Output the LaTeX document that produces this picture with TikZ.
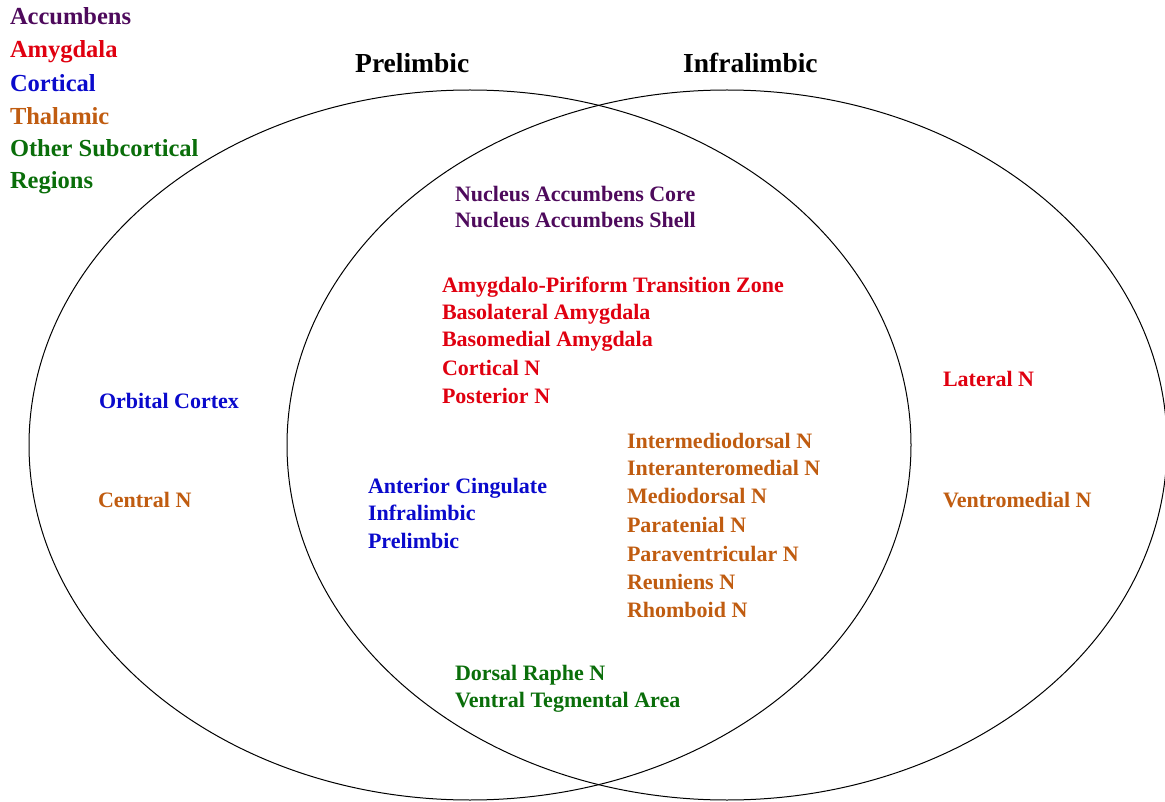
\documentclass[tikz,border=0pt]{standalone}
\usepackage{fontspec}
\setmainfont{Liberation Serif}
\definecolor{accc}{HTML}{4E0A5C}
\definecolor{amyc}{HTML}{E00010}
\definecolor{corc}{HTML}{0A0ACC}
\definecolor{thac}{HTML}{C05C10}
\definecolor{othc}{HTML}{0A6E0A}
\tikzset{
  lbl/.style={anchor=base west, inner sep=0pt, outer sep=0pt,
    font=\bfseries\fontsize{22}{27.5}\selectfont},
  leg/.style={anchor=base west, inner sep=0pt, outer sep=0pt,
    font=\bfseries\fontsize{24.5}{30}\selectfont},
  head/.style={anchor=base west, inner sep=0pt, font=\bfseries\fontsize{27.5}{32}\selectfont},
  venn/.style={draw=black, line width=1pt}
}
\begin{document}
\begin{tikzpicture}[x=1pt,y=-1pt]
\useasboundingbox (0,0) rectangle (1165,802);
\fill[white] (0,0) rectangle (1165,802);
\draw[venn] (470,445) ellipse [x radius=441pt, y radius=355pt];
\draw[venn] (727,445) ellipse [x radius=440pt, y radius=355pt];
% legend
\node[leg, text=accc] (lacc) at (10,25) {Accumbens};
\node[leg, text=amyc] (lamy) at (10,58) {Amygdala};
\node[leg, text=corc] (lcor) at (10,92) {Cortical};
\node[leg, text=thac] (ltha) at (10,125) {Thalamic};
\node[leg, text=othc] (loth) at (10,157) {Other Subcortical};
\node[leg, text=othc] (lreg) at (10,189) {Regions};
% headers
\node[head] (hpl) at (355,73) {Prelimbic};
\node[head] (hil) at (683,73) {Infralimbic};
% left only
\node[lbl, text=corc] (orb) at (99,408) {Orbital Cortex};
\node[lbl, text=thac] (cen) at (98,507) {Central N};
% right only
\node[lbl, text=amyc] (lat) at (943,386) {Lateral N};
\node[lbl, text=thac] (vmn) at (943,507) {Ventromedial N};
% overlap
\node[lbl, text=accc] (nac1) at (455,202) {Nucleus Accumbens Core};
\node[lbl, text=accc] (nac2) at (455,228) {Nucleus Accumbens Shell};
\node[lbl, text=amyc] (am1) at (442,293) {Amygdalo-Piriform Transition Zone};
\node[lbl, text=amyc] (am2) at (442,320) {Basolateral Amygdala};
\node[lbl, text=amyc] (am3) at (442,347) {Basomedial Amygdala};
\node[lbl, text=amyc] (am4) at (442,375) {Cortical N};
\node[lbl, text=amyc] (am5) at (442,403) {Posterior N};
\node[lbl, text=thac] (th1) at (627,448) {Intermediodorsal N};
\node[lbl, text=thac] (th2) at (627,475) {Interanteromedial N};
\node[lbl, text=thac] (th3) at (627,503) {Mediodorsal N};
\node[lbl, text=thac] (th4) at (627,532) {Paratenial N};
\node[lbl, text=thac] (th5) at (627,561) {Paraventricular N};
\node[lbl, text=thac] (th6) at (627,589) {Reuniens N};
\node[lbl, text=thac] (th7) at (627,617) {Rhomboid N};
\node[lbl, text=corc] (co1) at (368,493) {Anterior Cingulate};
\node[lbl, text=corc] (co2) at (368,520) {Infralimbic};
\node[lbl, text=corc] (co3) at (368,548) {Prelimbic};
\node[lbl, text=othc] (ot1) at (455,680) {Dorsal Raphe N};
\node[lbl, text=othc] (ot2) at (455,707) {Ventral Tegmental Area};
\end{tikzpicture}
\end{document}
